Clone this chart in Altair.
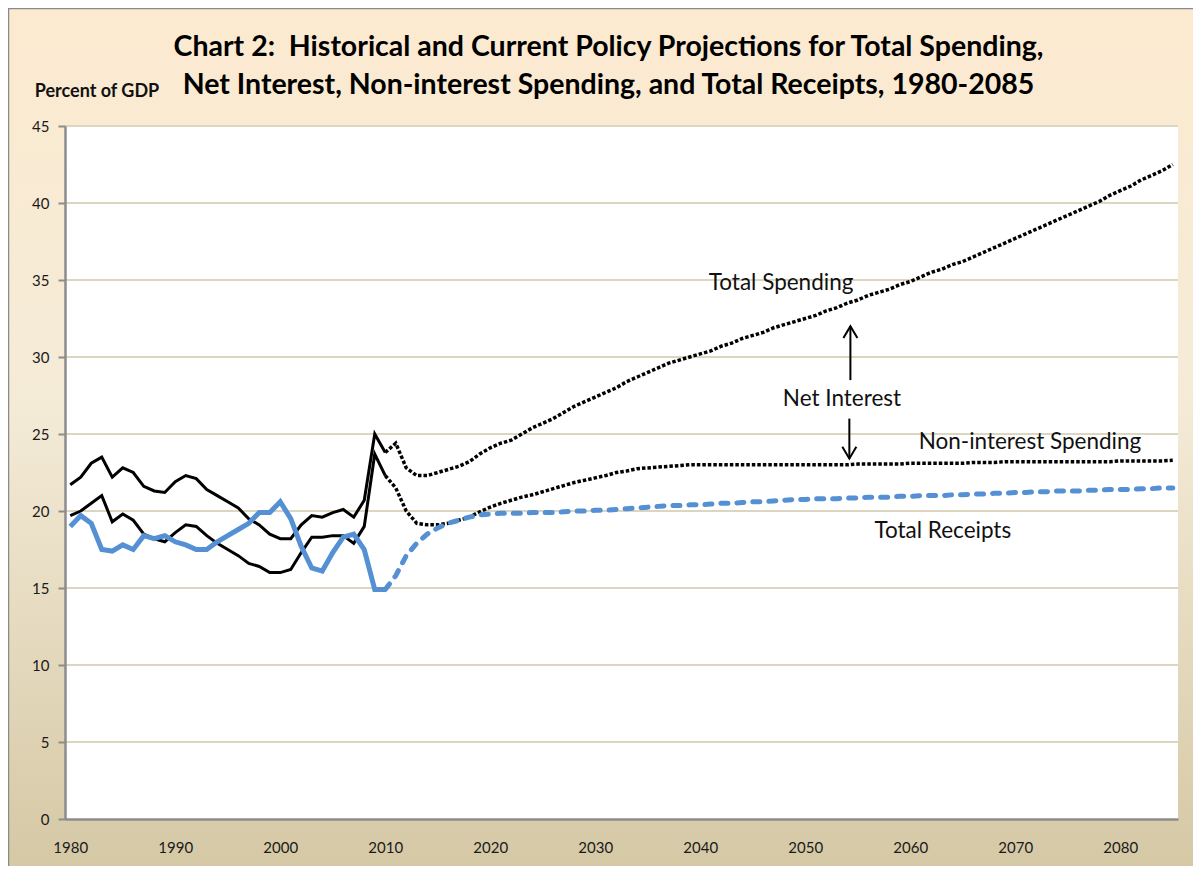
import altair as alt
import pandas as pd

# ---------------- data (percent of GDP) ----------------
hist_years = list(range(1980, 2011))
hist_total = [21.7, 22.2, 23.1, 23.5, 22.2, 22.8, 22.5, 21.6, 21.3, 21.2,
              21.9, 22.3, 22.1, 21.4, 21.0, 20.6, 20.2, 19.5, 19.1, 18.5,
              18.2, 18.2, 19.1, 19.7, 19.6, 19.9, 20.1, 19.6, 20.7, 25.0, 23.8]
hist_nonint = [19.7, 20.0, 20.5, 21.0, 19.3, 19.8, 19.4, 18.5, 18.2, 18.0,
               18.6, 19.1, 19.0, 18.4, 17.9, 17.5, 17.1, 16.6, 16.4, 16.0,
               16.0, 16.2, 17.3, 18.3, 18.3, 18.4, 18.4, 17.9, 19.0, 23.7, 22.3]
hist_receipts = [19.0, 19.7, 19.2, 17.5, 17.4, 17.8, 17.5, 18.4, 18.2, 18.4,
                 18.0, 17.8, 17.5, 17.5, 18.0, 18.4, 18.8, 19.2, 19.9, 19.9,
                 20.6, 19.5, 17.7, 16.3, 16.1, 17.3, 18.3, 18.5, 17.5, 14.9, 14.9]

proj_years = list(range(2010, 2086))
proj_total = [23.8, 24.4, 22.8, 22.3, 22.3, 22.5, 22.7, 22.9, 23.2, 23.7,
              24.1, 24.4, 24.6, 25.0, 25.4, 25.7, 26.0, 26.4, 26.8, 27.1,
              27.4, 27.7, 28.0, 28.4, 28.7, 29.0, 29.3, 29.6, 29.8, 30.0,
              30.2, 30.4, 30.7, 30.9, 31.2, 31.4, 31.6, 31.9, 32.1, 32.3,
              32.5, 32.7, 33.0, 33.2, 33.5, 33.7, 34.0, 34.2, 34.4, 34.7,
              34.9, 35.2, 35.5, 35.7, 36.0, 36.2, 36.5, 36.8, 37.1, 37.4,
              37.7, 38.0, 38.3, 38.6, 38.9, 39.2, 39.5, 39.8, 40.1, 40.5,
              40.8, 41.1, 41.5, 41.8, 42.1, 42.5]
proj_nonint = [22.3, 21.5, 20.0, 19.2, 19.1, 19.1, 19.2, 19.4, 19.6, 19.95,
               20.25, 20.5, 20.7, 20.9, 21.05, 21.25, 21.45, 21.65, 21.85, 22.0,
               22.15, 22.3, 22.5, 22.6, 22.75, 22.8, 22.85, 22.9, 22.95, 23.0,
               23.0, 23.0, 23.0, 23.0, 23.0, 23.0, 23.0, 23.0, 23.0, 23.0,
               23.0, 23.0, 23.0, 23.0, 23.0, 23.05, 23.05, 23.05, 23.05, 23.05,
               23.1, 23.1, 23.1, 23.1, 23.1, 23.1, 23.15, 23.15, 23.15, 23.2,
               23.2, 23.2, 23.2, 23.2, 23.2, 23.2, 23.2, 23.2, 23.2, 23.2,
               23.25, 23.25, 23.25, 23.25, 23.25, 23.3]
proj_receipts = [14.9, 15.8, 17.1, 17.9, 18.5, 18.9, 19.2, 19.4, 19.6, 19.75,
                 19.8, 19.85, 19.85, 19.85, 19.9, 19.9, 19.9, 19.95, 20.0, 20.0,
                 20.05, 20.05, 20.1, 20.15, 20.2, 20.25, 20.3, 20.35, 20.35, 20.4,
                 20.4, 20.45, 20.5, 20.5, 20.55, 20.6, 20.6, 20.65, 20.7, 20.75,
                 20.75, 20.8, 20.8, 20.8, 20.85, 20.85, 20.9, 20.9, 20.9, 20.95,
                 20.95, 21.0, 21.0, 21.0, 21.05, 21.05, 21.1, 21.1, 21.15, 21.15,
                 21.2, 21.2, 21.25, 21.25, 21.3, 21.3, 21.3, 21.35, 21.35, 21.4,
                 21.4, 21.4, 21.45, 21.45, 21.5, 21.5]

x_ticks = list(range(1980, 2081, 10))
y_ticks = list(range(0, 46, 5))

ann_text = ["Total Spending", "Net Interest", "Non-interest Spending", "Total Receipts"]
ann_year = [2047.7, 2053.5, 2071.4, 2063.1]
ann_value = [34.8, 27.3, 24.5, 18.7]

arrow_year = [2054.3, 2054.2]
arrow_from = [28.5, 26.0]
arrow_to = [32.0, 23.4]

title_lines = ["Chart 2:\u00a0 Historical and Current Policy Projections for Total Spending,",
               "Net Interest, Non-interest Spending, and Total Receipts, 1980-2085"]

# ---------------- tables ----------------
def long(years, vals, series):
    return [{"year": y, "value": v, "series": series} for y, v in zip(years, vals)]

hist_black = pd.DataFrame(long(hist_years, hist_total, "Total Spending") +
                          long(hist_years, hist_nonint, "Non-interest Spending"))
proj_black = pd.DataFrame(long(proj_years, proj_total, "Total Spending") +
                          long(proj_years, proj_nonint, "Non-interest Spending"))
hist_blue = pd.DataFrame(long(hist_years, hist_receipts, "Total Receipts"))
proj_blue = pd.DataFrame(long(proj_years, proj_receipts, "Total Receipts"))
ann_df = pd.DataFrame({"year": ann_year, "value": ann_value, "label": ann_text})
arrow_df = pd.DataFrame({"year": arrow_year, "value": arrow_from, "to": arrow_to})
head_df = pd.DataFrame({"year": arrow_year, "value": arrow_to,
                        "rot": [0 if t > f else 180 for f, t in zip(arrow_from, arrow_to)]})
grid_df = pd.DataFrame({"value": y_ticks[1:]})

W, H = 1113, 693
PL, PT, PR, PB = 57, 118, 15, 47
FONT = "Lato"
AXIS_GRAY = "#8c8c8c"

xscale = alt.Scale(domain=[1979.5, 2085.5], nice=False, zero=False)
yscale = alt.Scale(domain=[0, 45], nice=False, zero=False)

x_axis = alt.Axis(values=x_ticks, format="d", title=None, ticks=False, grid=False,
                  domainColor=AXIS_GRAY, domainWidth=2.5, labelFont=FONT, labelFontSize=15,
                  labelColor="#1a1a1a", labelPadding=21, labelFlush=False, zindex=1)
y_axis = alt.Axis(values=y_ticks, title=None, grid=False, tickSize=7, tickWidth=2,
                  tickColor=AXIS_GRAY, domainColor=AXIS_GRAY, domainWidth=2.5,
                  labelFont=FONT, labelFontSize=15, labelColor="#1a1a1a", labelPadding=9,
                  zindex=1)

X = alt.X("year:Q", scale=xscale, axis=x_axis)
Y = alt.Y("value:Q", scale=yscale, axis=y_axis)

one = alt.Data(values=[{}])

bg = alt.Chart(one).mark_rect(
    fill=alt.Gradient(gradient="linear", x1=0, x2=0, y1=0, y2=1,
                      stops=[alt.GradientStop(color="#FCEAD0", offset=0),
                             alt.GradientStop(color="#F4EBD7", offset=0.45),
                             alt.GradientStop(color="#D3C6A2", offset=1)]),
    stroke="#8a8a8a", strokeWidth=1.5
).encode(x=alt.value(-PL + 0.5), x2=alt.value(W + PR + 30),
         y=alt.value(-PT + 0.5), y2=alt.value(H + PB + 30))

plot_bg = alt.Chart(one).mark_rect(fill="white").encode(
    x=alt.value(0), x2=alt.value(W), y=alt.value(0), y2=alt.value(H))

grid = alt.Chart(grid_df).mark_rule(color="#DCD6C1", strokeWidth=2).encode(y=Y)

l_hist_black = alt.Chart(hist_black).mark_line(color="black", strokeWidth=3).encode(
    x=X, y=Y, detail="series:N")
l_proj_black = alt.Chart(proj_black).mark_line(color="black", strokeWidth=3.5,
                                               strokeDash=[3.5, 2]).encode(
    x=X, y=Y, detail="series:N")
l_hist_blue = alt.Chart(hist_blue).mark_line(color="#5590D5", strokeWidth=5).encode(
    x=X, y=Y)
l_proj_blue = alt.Chart(proj_blue).mark_line(color="#5590D5", strokeWidth=5,
                                             strokeDash=[7, 9], strokeCap="round").encode(
    x=X, y=Y)

shafts = alt.Chart(arrow_df).mark_rule(color="black", strokeWidth=2).encode(
    x=X, y=Y, y2="to:Q")
heads = alt.Chart(head_df).mark_point(
    shape="M -1 1.7 L 0 0 L 1 1.7", filled=False, stroke="black", strokeWidth=2,
    size=196, opacity=1
).encode(x=X, y=Y, angle=alt.Angle("rot:Q", scale=None))

labels = alt.Chart(ann_df).mark_text(font=FONT, fontSize=22.5, color="#111").encode(
    x=X, y=Y, text="label:N")

pct = alt.Chart(one).mark_text(text="Percent of GDP", font=FONT, fontSize=18,
                               fontWeight="bold", color="#111", align="center",
                               baseline="middle").encode(
    x=alt.value(32), y=alt.value(-34))

chart = alt.layer(
    bg, plot_bg, grid, l_hist_black, l_proj_black, l_hist_blue, l_proj_blue,
    shafts, heads, labels, pct
).properties(
    width=W, height=H,
    padding={"left": PL, "top": PT, "right": PR, "bottom": PB},
    autosize=alt.AutoSizeParams(type="none"),
    title=alt.TitleParams(text=title_lines, font=FONT, fontSize=28.5, fontWeight="bold",
                          color="#000", anchor="middle", frame="group", dx=-13,
                          offset=-92, lineHeight=38),
).configure_view(stroke=None)

chart.save("out.html", embed_options={"renderer": "svg", "actions": False})
